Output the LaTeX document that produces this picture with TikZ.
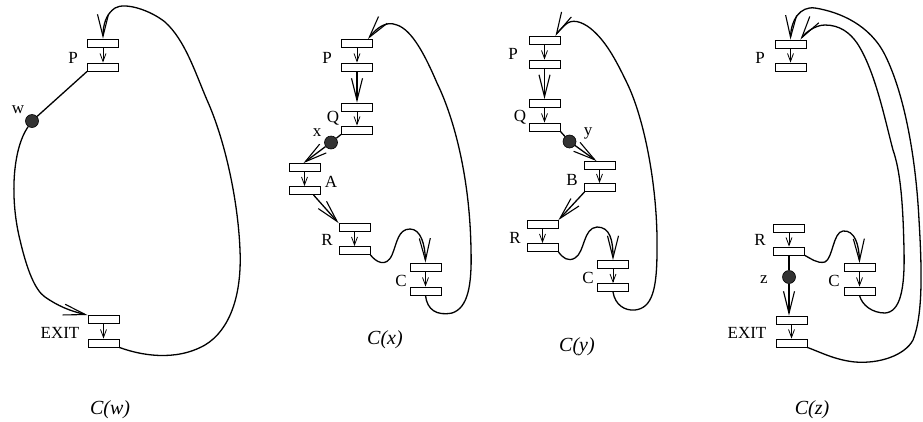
\documentclass[tikz,border=0pt]{standalone}
\usepackage{fontspec}
\setmainfont{Liberation Serif}
\usetikzlibrary{arrows.meta}
\begin{document}
\begin{tikzpicture}[x=1pt,y=-1pt,
  blk/.style={draw,line width=0.9pt,minimum width=31pt,minimum height=8pt,inner sep=0pt,fill=white},
  lbl/.style={inner sep=0pt,font=\fontsize{17}{17}\selectfont},
  captxt/.style={inner sep=0pt,font=\fontsize{20}{20}\selectfont\itshape},
  dotn/.style={circle,draw,line width=0.6pt,fill=black!80,minimum size=13pt,inner sep=0pt},
  conn/.style={line width=1.3pt},
  bigA/.style={-{Straight Barb[length=22pt,width=11pt,line width=1.1pt]}},
  smallA/.style={line width=0.8pt,-{Straight Barb[length=8pt,width=6pt,line width=0.8pt]}}]
\useasboundingbox (0,0) rectangle (923,421);

% ---------- C(w) ----------
\node[blk] (P1a) at (103,43) {};
\node[blk] (P1b) at (103,67) {};
\node[blk] (E1a) at (103.5,319.5) {};
\node[blk] (E1b) at (103.5,343) {};
\node[dotn] (w1) at (32,121) {};
\node[lbl] (lP1) at (73,57.5) {P};
\node[lbl] (lw1) at (18,110) {w};
\node[lbl] (lE1) at (60,333) {EXIT};
\node[captxt] (c1) at (110,410) {C(w)};
\draw[smallA] (P1a.south) -- (P1b.north);
\draw[smallA] (E1a.south) -- (E1b.north);
\draw[conn] (P1b.south west) -- (w1);
\draw[conn,bigA] (w1) .. controls (12,150) and (10,200) .. (20,240)
  .. controls (27,270) and (35,290) .. (45,297)
  .. controls (58,306) and (70,311) .. (E1a.north west);
\draw[conn,bigA] (E1b.south east) .. controls (140,355) and (175,362) .. (205,345)
  .. controls (230,330) and (242,295) .. (240,250)
  .. controls (238,200) and (225,140) .. (207,100)
  .. controls (195,72) and (185,40) .. (165,22)
  .. controls (150,10) and (125,2) .. (115,8)
  .. controls (106,14) and (103,25) .. (P1a.north);

% ---------- C(x) ----------
\node[blk] (P2a) at (357,43.5) {};
\node[blk] (P2b) at (357,67) {};
\node[blk] (Q2a) at (357,107) {};
\node[blk] (Q2b) at (357,130) {};
\node[blk] (A2a) at (304.5,167.5) {};
\node[blk] (A2b) at (304.5,190.5) {};
\node[blk] (R2a) at (354.5,227.5) {};
\node[blk] (R2b) at (354.5,250.5) {};
\node[blk] (C2a) at (425.5,267) {};
\node[blk] (C2b) at (425.5,291) {};
\node[dotn] (x2) at (331,142.5) {};
\node[lbl] (lP2) at (327,57.5) {P};
\node[lbl] (lQ2) at (333,118) {Q};
\node[lbl] (lx2) at (317,133) {x};
\node[lbl] (lA2) at (331,182) {A};
\node[lbl] (lR2) at (327,240) {R};
\node[lbl] (lC2) at (401,281) {C};
\node[captxt] (c2) at (385,340) {C(x)};
\draw[smallA] (P2a.south) -- (P2b.north);
\draw[smallA] (Q2a.south) -- (Q2b.north);
\draw[smallA] (A2a.south) -- (A2b.north);
\draw[smallA] (R2a.south) -- (R2b.north);
\draw[smallA] (C2a.south) -- (C2b.north);
\draw[conn,bigA] (P2b.south) -- (Q2a.north);
\draw[conn] (Q2b.south west) -- (x2);
\draw[conn,bigA] (x2) -- ([xshift=-1pt]A2a.north);
\draw[conn,bigA] ([xshift=9pt]A2b.south) -- (R2a.north west);
\draw[conn,bigA] (R2b.south east) .. controls (376,262) and (386,268) .. (392,255)
  .. controls (397,243) and (398,229) .. (410,229)
  .. controls (421,229) and (425,245) .. (C2a.north);
\draw[conn,bigA] (C2b.south) .. controls (427,310) and (437,316) .. (452,313)
  .. controls (468,308) and (472,285) .. (471,250)
  .. controls (470,180) and (455,120) .. (437,83)
  .. controls (425,55) and (412,30) .. (397,25)
  .. controls (385,20) and (375,30) .. ([xshift=-5pt]P2a.north east);

% ---------- C(y) ----------
\node[blk] (P3a) at (544.5,40.5) {};
\node[blk] (P3b) at (544.5,64) {};
\node[blk] (Q3a) at (544.5,103.5) {};
\node[blk] (Q3b) at (544.5,127) {};
\node[blk] (B3a) at (599.5,165.5) {};
\node[blk] (B3b) at (599.5,187.5) {};
\node[blk] (R3a) at (542.5,224.5) {};
\node[blk] (R3b) at (542.5,247.5) {};
\node[blk] (C3a) at (613,264.5) {};
\node[blk] (C3b) at (613,287.5) {};
\node[dotn] (y3) at (569.5,141.5) {};
\node[lbl] (lP3) at (513,54) {P};
\node[lbl] (lQ3) at (520,117) {Q};
\node[lbl] (ly3) at (588,133) {y};
\node[lbl] (lB3) at (572,180) {B};
\node[lbl] (lR3) at (515,238) {R};
\node[lbl] (lC3) at (588,278) {C};
\node[captxt] (c3) at (577,347) {C(y)};
\draw[smallA] (P3a.south) -- (P3b.north);
\draw[smallA] (Q3a.south) -- (Q3b.north);
\draw[smallA] (B3a.south) -- (B3b.north);
\draw[smallA] (R3a.south) -- (R3b.north);
\draw[smallA] (C3a.south) -- (C3b.north);
\draw[conn,bigA] (P3b.south) -- (Q3a.north);
\draw[conn] (Q3b.south east) -- (y3);
\draw[conn,bigA] (y3) -- ([xshift=-3pt]B3a.north);
\draw[conn,bigA] ([xshift=-15pt]B3b.south) -- (R3a.north east);
\draw[conn,bigA] (R3b.south east) .. controls (563,258) and (568,262) .. (575,258)
  .. controls (585,252) and (583,228) .. (597,227)
  .. controls (610,227) and (613,240) .. (C3a.north);
\draw[conn,bigA] (C3b.south) .. controls (615,305) and (625,311) .. (635,310)
  .. controls (652,308) and (657,290) .. (657,250)
  .. controls (658,190) and (645,120) .. (627,83)
  .. controls (615,58) and (605,40) .. (590,28)
  .. controls (582,22) and (572,18) .. (565,25)
  .. controls (561,29) and (557,33) .. ([xshift=-5pt]P3a.north east);

% ---------- C(z) ----------
\node[blk] (P4a) at (790.5,44) {};
\node[blk] (P4b) at (790.5,67) {};
\node[blk] (R4a) at (789,228) {};
\node[blk] (R4b) at (789,251) {};
\node[blk] (C4a) at (859.5,267.5) {};
\node[blk] (C4b) at (859.5,291) {};
\node[blk] (E4a) at (791.5,320) {};
\node[blk] (E4b) at (791.5,343) {};
\node[dotn] (z4) at (789,277) {};
\node[lbl] (lP4) at (760,58) {P};
\node[lbl] (lR4) at (760,240) {R};
\node[lbl] (lz4) at (764,280) {z};
\node[lbl] (lC4) at (834,281) {C};
\node[lbl] (lE4) at (747,333) {EXIT};
\node[captxt] (c4) at (812,410) {C(z)};
\draw[smallA] (P4a.south) -- (P4b.north);
\draw[smallA] (R4a.south) -- (R4b.north);
\draw[smallA] (C4a.south) -- (C4b.north);
\draw[smallA] (E4a.south) -- (E4b.north);
\draw[conn] (R4b.south) -- (z4);
\draw[conn,bigA] (z4) -- (z4 |- E4a.north);
\draw[conn,bigA] (R4b.south east) .. controls (810,258) and (817,264) .. (825,262)
  .. controls (833,258) and (833,232) .. (843,231)
  .. controls (855,230) and (859,245) .. (C4a.north);
\draw[conn,bigA] (C4b.south) .. controls (862,305) and (872,313) .. (885,313)
  .. controls (900,312) and (905,290) .. (904,250)
  .. controls (903,200) and (900,170) .. (893,150)
  .. controls (885,120) and (875,70) .. (857,43)
  .. controls (850,33) and (840,25) .. (825,25)
  .. controls (815,25) and (805,33) .. ([xshift=-6pt]P4a.north east);
\draw[conn,bigA] (E4b.south east) .. controls (820,352) and (835,360) .. (855,362)
  .. controls (880,364) and (905,355) .. (913,340)
  .. controls (923,315) and (922,270) .. (919,220)
  .. controls (916,160) and (905,95) .. (885,55)
  .. controls (870,25) and (840,12) .. (815,8)
  .. controls (800,6) and (791,20) .. (P4a.north);
\end{tikzpicture}
\end{document}
